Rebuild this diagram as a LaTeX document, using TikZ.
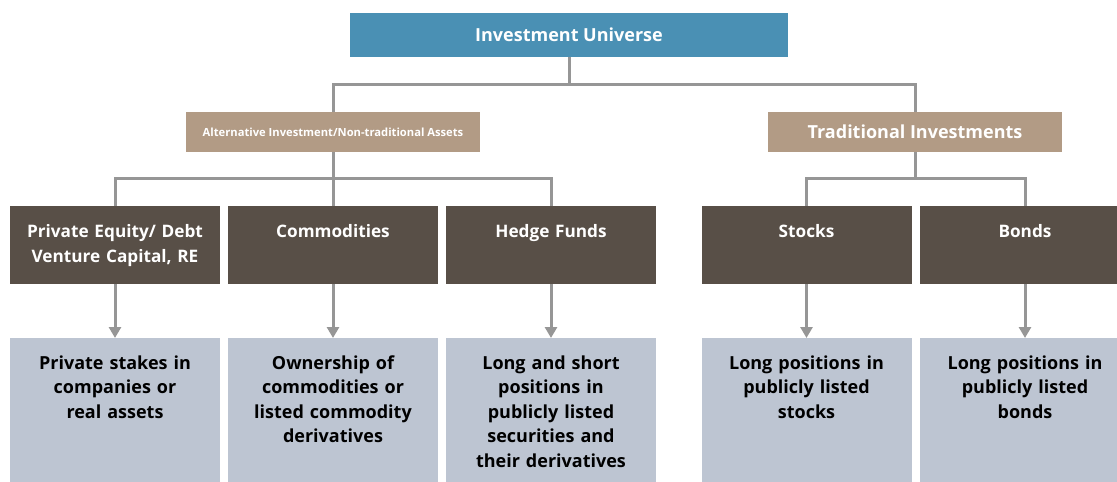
\documentclass[tikz,border=0pt]{standalone}
\usepackage{fontspec}
\setmainfont{Open Sans}
\usepackage{tikz}
\usetikzlibrary{arrows.meta}

\definecolor{topblue}{RGB}{74,144,180}
\definecolor{tan}{RGB}{178,155,133}
\definecolor{darkbrown}{RGB}{88,79,71}
\definecolor{paleblue}{RGB}{189,197,210}
\definecolor{linegray}{RGB}{150,150,150}

\begin{document}
\begin{tikzpicture}[x=1pt, y=-1pt,
    every node/.style={font=\bfseries},
    head/.style={fill=#1, text=white, inner sep=0pt, minimum height=40pt, minimum width=294pt},
    kind/.style={fill=darkbrown, text=white, font=\bfseries\fontsize{17.2}{25}\selectfont,
      text width=200pt, align=center, inner xsep=5pt, inner ysep=0pt,
      text height=31pt, text depth=47pt, anchor=north},
    what/.style={fill=paleblue, text=black, font=\bfseries\fontsize{18}{24.5}\selectfont,
      text width=200pt, align=center, inner xsep=5pt, inner ysep=0pt,
      text height=31pt, text depth=113pt, anchor=north},
    link/.style={draw=linegray, line width=3pt},
    tip/.style={link, -{Triangle[width=12pt, length=11pt]}}]
  \useasboundingbox (0,0) rectangle (1117,482);

  \node[head=topblue, minimum width=438pt, minimum height=44pt, font=\bfseries\fontsize{18}{20}\selectfont]
    (univ) at (569,35) {Investment Universe};
  \node[head=tan, font=\bfseries\fontsize{11.2}{12}\selectfont] (alt) at (333,132) {Alternative Investment/Non-traditional Assets};
  \node[head=tan, font=\bfseries\fontsize{18}{20}\selectfont] (trad) at (915,132) {Traditional Investments};

  \node[kind] (pe) at (115,206) {Private Equity/ Debt\\ Venture Capital, RE};
  \node[kind] (comm) at (333,206) {Commodities};
  \node[kind] (hedge) at (551,206) {Hedge Funds};
  \node[kind] (stocks) at (806.5,206) {Stocks};
  \node[kind] (bonds) at (1025,206) {Bonds};

  \node[what] (pe-d) at (115,338) {Private stakes in\\ companies or\\ real assets};
  \node[what] (comm-d) at (333,338) {Ownership of\\ commodities or\\ listed commodity\\ derivatives};
  \node[what] (hedge-d) at (551,338) {Long and short\\ positions in\\ publicly listed\\ securities and\\ their derivatives};
  \node[what] (stocks-d) at (806.5,338) {Long positions in\\ publicly listed\\ stocks};
  \node[what] (bonds-d) at (1025,338) {Long positions in\\ publicly listed\\ bonds};

  \draw[link] (univ.south) -- ++(0,27) -| (alt.north);
  \draw[link] (univ.south) -- ++(0,27) -| (trad.north);
  \draw[link] (alt.south) -- (comm.north);
  \draw[link] (alt.south) -- ++(0,26) -| (pe.north);
  \draw[link] (alt.south) -- ++(0,26) -| (hedge.north);
  \draw[link] (trad.south) -- ++(0,26) -| (stocks.north);
  \draw[link] (trad.south) -- ++(0,26) -| (bonds.north);

  \foreach \a in {pe,comm,hedge,stocks,bonds}
    \draw[tip] (\a.south) -- (\a-d.north);
\end{tikzpicture}
\end{document}
